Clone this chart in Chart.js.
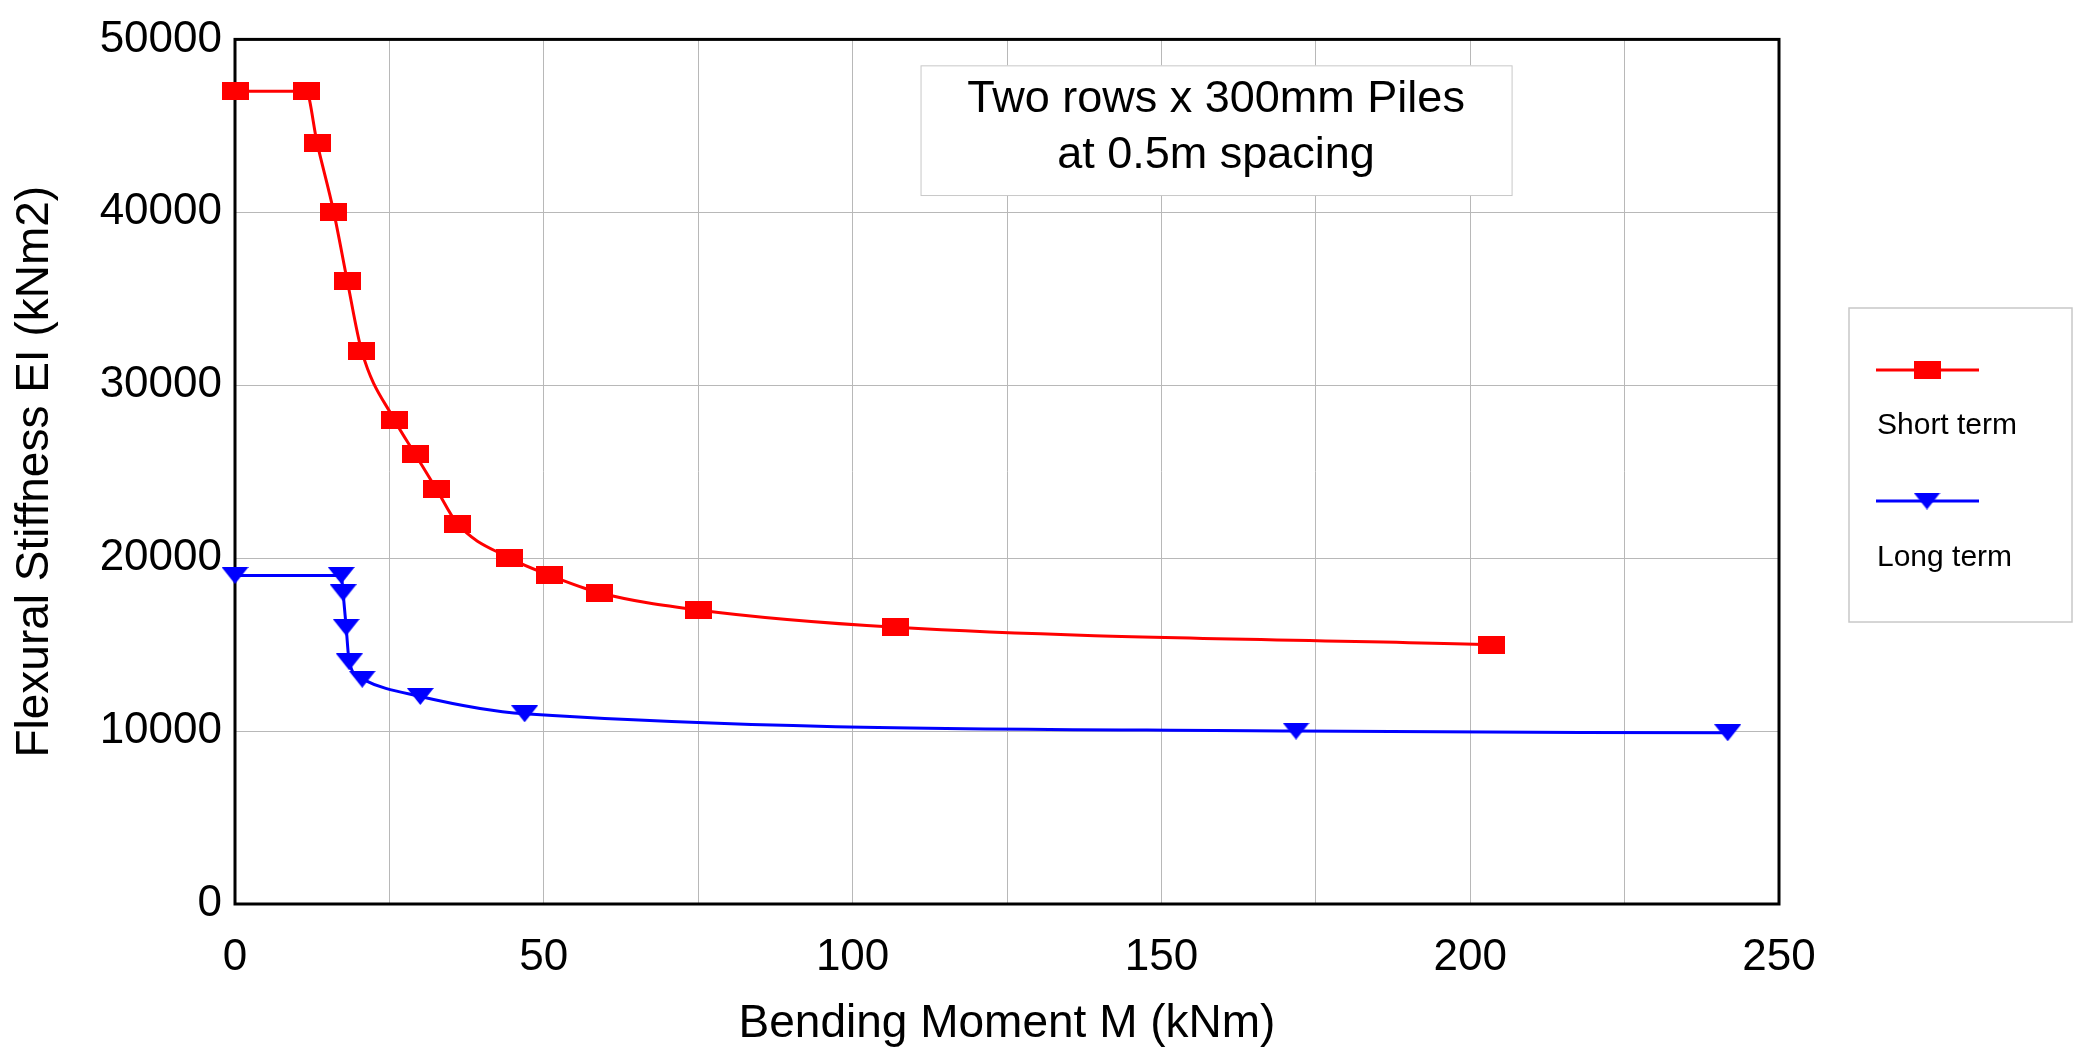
<!DOCTYPE html>
<html>
<head>
<meta charset="utf-8">
<script src="https://cdn.jsdelivr.net/npm/chart.js@4.4.1/dist/chart.umd.min.js"></script>
<style>
  html, body { margin: 0; padding: 0; background: #fff; }
  #wrap { position: relative; width: 2078px; height: 1054px; }
</style>
</head>
<body>
<div id="wrap"><canvas id="chart"></canvas></div>
<script>
// bending moment (kNm) vs flexural stiffness (kNm2)
const shortX = [0, 11.5, 13.3, 16.0, 18.2, 20.5, 25.8, 29.2, 32.6, 36.0, 44.5, 51.0, 59.0, 75.0, 107.0, 203.5];
const shortY = [47000, 47000, 44000, 40000, 36000, 32000, 28000, 26000, 24000, 22000, 20000, 19000, 18000, 17000, 16000, 15000];
const longX = [0, 17.2, 17.5, 18.0, 18.5, 20.6, 30.0, 46.9, 171.8, 241.7];
const longY = [19000, 19000, 18000, 16000, 14000, 13000, 12000, 11000, 10000, 9900];

const xTicks = [0, 50, 100, 150, 200, 250];
const yTicks = [0, 10000, 20000, 30000, 40000, 50000];
const seriesNames = ['Short term', 'Long term'];
const noteLines = ['Two rows x 300mm Piles', 'at 0.5m spacing'];

const FONT = '"Liberation Sans", Arial, sans-serif';
const RED = '#ff0000';
const BLUE = '#0000ff';

const toPoints = (xs, ys) => xs.map((x, i) => ({ x: x, y: ys[i] }));

function makeRect(color, w, h) {
    const c = document.createElement('canvas');
    c.width = w; c.height = h;
    const g = c.getContext('2d');
    g.fillStyle = color;
    g.fillRect(0, 0, w, h);
    return c;
}

function makeTriangle(color, w, h) {
    const c = document.createElement('canvas');
    c.width = w; c.height = h;
    const g = c.getContext('2d');
    g.fillStyle = color;
    g.beginPath();
    g.moveTo(0, 0);
    g.lineTo(w, 0);
    g.lineTo(w / 2, h);
    g.closePath();
    g.fill();
    return c;
}

const squareMark = makeRect(RED, 27, 18);
const triMark = makeTriangle(BLUE, 27, 17);

// note box corners in data units, legend box in pixels
const noteBox = { x0: 111, x1: 206.7, y0: 48500, y1: 41000 };

const extras = {
    id: 'extras',
    beforeDatasetsDraw(chart) {
        const { ctx, chartArea: a, scales: { x, y } } = chart;
        ctx.save();

        // annotation box
        const bx0 = x.getPixelForValue(noteBox.x0), bx1 = x.getPixelForValue(noteBox.x1);
        const by0 = y.getPixelForValue(noteBox.y0), by1 = y.getPixelForValue(noteBox.y1);
        ctx.fillStyle = '#fff';
        ctx.fillRect(bx0, by0, bx1 - bx0, by1 - by0);
        ctx.strokeStyle = '#c8c8c8';
        ctx.lineWidth = 1;
        ctx.strokeRect(bx0 + 0.5, by0 + 0.5, bx1 - bx0, by1 - by0);
        ctx.fillStyle = '#000';
        ctx.font = '45px ' + FONT;
        ctx.textAlign = 'center';
        ctx.textBaseline = 'alphabetic';
        const cx = (bx0 + bx1) / 2;
        ctx.fillText(noteLines[0], cx, by0 + 47);
        ctx.fillText(noteLines[1], cx, by0 + 103);

        // frame
        ctx.strokeStyle = '#000';
        ctx.lineWidth = 3;
        ctx.strokeRect(a.left, a.top, a.right - a.left, a.bottom - a.top);
        ctx.restore();
    },
    afterDraw(chart) {
        const { ctx } = chart;
        ctx.save();
        const L = 1849, T = 308, W = 223, H = 314;
        ctx.fillStyle = '#fff';
        ctx.fillRect(L, T, W, H);
        ctx.strokeStyle = '#c8c8c8';
        ctx.lineWidth = 1.5;
        ctx.strokeRect(L, T, W, H);

        const rows = [
            { color: RED, mark: squareMark, lineY: 370, textY: 434 },
            { color: BLUE, mark: triMark, lineY: 501, textY: 566 }
        ];
        ctx.font = '30px ' + FONT;
        ctx.textAlign = 'left';
        ctx.textBaseline = 'alphabetic';
        rows.forEach((r, i) => {
            ctx.strokeStyle = r.color;
            ctx.lineWidth = 3;
            ctx.beginPath();
            ctx.moveTo(1876, r.lineY);
            ctx.lineTo(1979, r.lineY);
            ctx.stroke();
            ctx.drawImage(r.mark, 1927 - r.mark.width / 2, r.lineY - r.mark.height / 2);
            ctx.fillStyle = '#000';
            ctx.fillText(seriesNames[i], 1877, r.textY);
        });
        ctx.restore();
    }
};

new Chart(document.getElementById('chart'), {
    type: 'scatter',
    data: {
        datasets: [
            {
                label: seriesNames[0],
                data: toPoints(shortX, shortY),
                showLine: true,
                borderColor: RED,
                borderWidth: 3,
                backgroundColor: RED,
                pointStyle: squareMark,
                cubicInterpolationMode: 'monotone',
                clip: false
            },
            {
                label: seriesNames[1],
                data: toPoints(longX, longY),
                showLine: true,
                borderColor: BLUE,
                borderWidth: 3,
                backgroundColor: BLUE,
                pointStyle: triMark,
                cubicInterpolationMode: 'monotone',
                clip: false
            }
        ]
    },
    options: {
        responsive: true,
        maintainAspectRatio: false,
        animation: false,
        events: [],
        layout: { padding: { left: 0, top: 28, right: 299, bottom: 0 } },
        plugins: {
            legend: { display: false },
            tooltip: { enabled: false }
        },
        scales: {
            x: {
                type: 'linear',
                min: 0,
                max: 250,
                afterFit: (s) => { s.height = 150; },
                border: { display: false },
                grid: { color: '#b8b8b8', lineWidth: 1, drawTicks: false },
                ticks: {
                    stepSize: 25,
                    padding: 27,
                    color: '#000',
                    font: { family: FONT, size: 44 },
                    maxRotation: 0,
                    autoSkip: false,
                    callback: (v) => xTicks.includes(v) ? String(v) : ''
                },
                title: {
                    display: true,
                    text: 'Bending Moment M (kNm)',
                    color: '#000',
                    font: { family: FONT, size: 46 },
                    padding: { top: 0, bottom: 2 }
                }
            },
            y: {
                type: 'linear',
                min: 0,
                max: 50000,
                afterFit: (s) => { s.width = 235; },
                border: { display: false },
                grid: { color: '#b8b8b8', lineWidth: 1, drawTicks: false },
                ticks: {
                    stepSize: 10000,
                    padding: 13,
                    color: '#000',
                    font: { family: FONT, size: 44 },
                    callback: (v) => yTicks.includes(v) ? String(v) : ''
                },
                title: {
                    display: true,
                    text: 'Flexural Stiffness EI (kNm2)',
                    color: '#000',
                    font: { family: FONT, size: 46 },
                    padding: { top: 8, bottom: 0 }
                }
            }
        }
    },
    plugins: [extras]
});
</script>
</body>
</html>
